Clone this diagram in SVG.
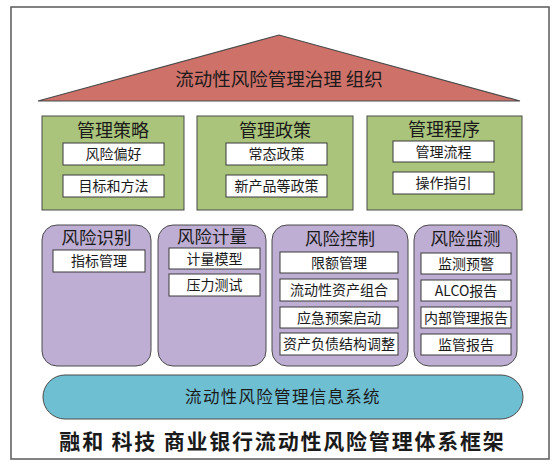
<svg xmlns="http://www.w3.org/2000/svg" width="560" height="467" viewBox="0 0 560 467">
<style>
text{font-family:"Microsoft YaHei","Noto Sans CJK SC","Noto Sans",sans-serif;fill:#1a1a1a;text-anchor:middle}
.frame{fill:#fff;stroke:#5a5a5a;stroke-width:1.5}
.roof{fill:#CD7169;stroke:#4a4a4a;stroke-width:1.2}
.green{fill:#AAC47C;stroke:#4a4a4a;stroke-width:1}
.purple{fill:#BEAED3;stroke:#4a4a4a;stroke-width:1}
.blue{fill:#6FBFD3;stroke:#4a4a4a;stroke-width:1}
.item{fill:#fff;stroke:#3a3a3a;stroke-width:1}
.h{font-size:18px}
.ph{font-size:17.5px}
.t{font-size:14px}
</style>
<rect class="frame" x="11" y="7" width="538" height="452"/>
<g id="roof">
<polygon class="roof" points="38,101 279,35 520,101"/>
<text x="279" y="86" style="font-size:18.5px">流动性风险管理治理 组织</text>
</g>
<g id="strategy">
<rect class="green" x="42" y="116" width="142" height="94"/>
<text class="h" x="113" y="137">管理策略</text>
<rect class="item" x="63" y="143" width="101" height="22"/>
<text class="t" x="113.5" y="159">风险偏好</text>
<rect class="item" x="63" y="175" width="101" height="22"/>
<text class="t" x="113.5" y="191">目标和方法</text>
</g>
<g id="policy">
<rect class="green" x="197" y="116" width="156" height="94"/>
<text class="h" x="275" y="137">管理政策</text>
<rect class="item" x="226" y="143" width="101" height="22"/>
<text class="t" x="276.5" y="159">常态政策</text>
<rect class="item" x="226" y="175" width="101" height="22"/>
<text class="t" x="276.5" y="191">新产品等政策</text>
</g>
<g id="procedure">
<rect class="green" x="367" y="116" width="155" height="94"/>
<text class="h" x="444" y="136">管理程序</text>
<rect class="item" x="393" y="141" width="101" height="21"/>
<text class="t" x="443.5" y="156.5">管理流程</text>
<rect class="item" x="393" y="172" width="101" height="22"/>
<text class="t" x="443.5" y="188">操作指引</text>
</g>
<g id="identify">
<rect class="purple" x="42" y="225" width="109" height="141" rx="15"/>
<text class="ph" x="96.5" y="244">风险识别</text>
<rect class="item" x="53" y="250" width="92" height="22"/>
<text class="t" x="99" y="266">指标管理</text>
</g>
<g id="measure">
<rect class="purple" x="158" y="225" width="108" height="141" rx="15"/>
<text class="ph" x="212" y="243">风险计量</text>
<rect class="item" x="169" y="248" width="91" height="21"/>
<text class="t" x="214.5" y="263.5">计量模型</text>
<rect class="item" x="169" y="274" width="91" height="22"/>
<text class="t" x="214.5" y="290">压力测试</text>
</g>
<g id="control">
<rect class="purple" x="272" y="225" width="136" height="141" rx="15"/>
<text class="ph" x="340" y="245">风险控制</text>
<rect class="item" x="280" y="252" width="118" height="21"/>
<text class="t" x="339" y="267.5">限额管理</text>
<rect class="item" x="280" y="279" width="118" height="22"/>
<text class="t" x="339" y="295">流动性资产组合</text>
<rect class="item" x="280" y="307" width="118" height="21"/>
<text class="t" x="339" y="322.5">应急预案启动</text>
<rect class="item" x="280" y="333" width="118" height="22"/>
<text class="t" x="339" y="349">资产负债结构调整</text>
</g>
<g id="monitor">
<rect class="purple" x="414" y="225" width="103" height="141" rx="15"/>
<text class="ph" x="465.5" y="245">风险监测</text>
<rect class="item" x="421" y="253" width="90" height="21"/>
<text class="t" x="466" y="268.5">监测预警</text>
<rect class="item" x="421" y="280" width="90" height="21"/>
<text class="t" x="466" y="295.5">ALCO报告</text>
<rect class="item" x="421" y="307" width="90" height="21"/>
<text class="t" x="466" y="322.5">内部管理报告</text>
<rect class="item" x="421" y="334" width="90" height="21"/>
<text class="t" x="466" y="349.5">监管报告</text>
</g>
<g id="infosys">
<rect class="blue" x="43" y="375" width="480" height="44" rx="22"/>
<text x="283" y="403" style="font-size:16.5px;letter-spacing:1.3px">流动性风险管理信息系统</text>
</g>
<g id="connectors"/>
<text x="282.5" y="449" style="font-size:21px;font-weight:bold;letter-spacing:1.8px">融和 科技 商业银行流动性风险管理体系框架</text>
</svg>
